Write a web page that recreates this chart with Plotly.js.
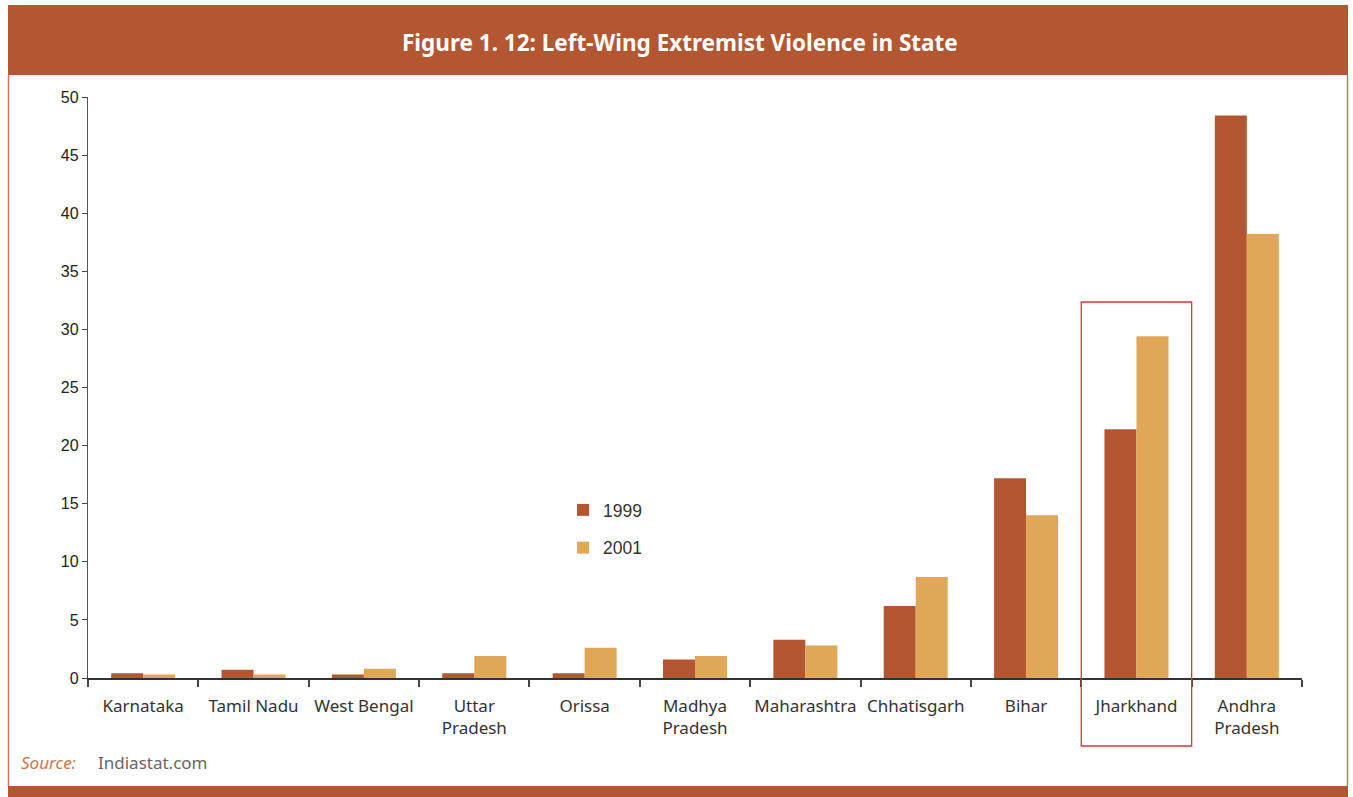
<!DOCTYPE html>
<html>
<head>
<meta charset="utf-8">
<script src="https://cdn.plot.ly/plotly-3.0.1.min.js"></script>
<style>html,body{margin:0;padding:0;background:#fff;}#chart{width:1353px;height:797px;}</style>
</head>
<body>
<div id="chart"></div>
<script>
const states = ["Karnataka","Tamil Nadu","West Bengal","Uttar<br>Pradesh","Orissa","Madhya<br>Pradesh","Maharashtra","Chhatisgarh","Bihar","Jharkhand","Andhra<br>Pradesh"];
const values1999 = [0.4, 0.7, 0.3, 0.4, 0.4, 1.6, 3.3, 6.2, 17.2, 21.4, 48.4];
const values2001 = [0.3, 0.3, 0.8, 1.9, 2.6, 1.9, 2.8, 8.7, 14.0, 29.4, 38.2];
const seriesNames = ["1999","2001"];
const yTicks = [0,5,10,15,20,25,30,35,40,45,50];
const highlighted = "Jharkhand";

const RUST = "#B35632", GOLD = "#DFA757";
const W = 1353, H = 797, M = {l:88, r:51, t:97, b:119};
const PW = W - M.l - M.r, PH = H - M.t - M.b;
const px = v => (v - M.l) / PW;
const py = v => (H - M.b - v) / PH;

const traces = [
  {type:"bar", name:seriesNames[0], x:states, y:values1999, marker:{color:RUST}, legendgroup:"a", hoverinfo:"x+y+name"},
  {type:"bar", name:seriesNames[1], x:states, y:values2001, marker:{color:GOLD}, legendgroup:"b", hoverinfo:"x+y+name"}
];

const idx = states.indexOf(highlighted);
const n = states.length;

const shapes = [
  {type:"rect", xref:"paper", yref:"paper", x0:px(8), x1:px(1348), y0:py(75), y1:py(5), fillcolor:RUST, line:{width:0}, layer:"below"},
  {type:"line", xref:"paper", yref:"paper", x0:px(8.5), x1:px(8.5), y0:py(75), y1:py(786), line:{color:"#C47A5A", width:1.5}},
  {type:"line", xref:"paper", yref:"paper", x0:px(1347.5), x1:px(1347.5), y0:py(75), y1:py(786), line:{color:"#C47A5A", width:1.5}},
  {type:"rect", xref:"paper", yref:"paper", x0:px(8), x1:px(1348), y0:py(797), y1:py(786), fillcolor:RUST, line:{width:0}},
  {type:"rect", xref:"x domain", yref:"y domain", x0:idx/n, x1:(idx+1)/n, y0:py(746), y1:py(302), line:{color:"#E8303A", width:1.3}, fillcolor:"rgba(0,0,0,0)"}
];

const annotations = [
  {xref:"paper", yref:"paper", x:px(680), xanchor:"center", y:py(42), yanchor:"middle", showarrow:false,
   text:"<b>Figure 1. 12: Left-Wing Extremist Violence in State</b>",
   font:{family:"Noto Sans, Open Sans, sans-serif", size:22.5, color:"#ffffff"}},
  {xref:"paper", yref:"paper", x:px(19), xanchor:"left", y:py(762), yanchor:"middle", showarrow:false,
   text:"<i>Source:</i>", font:{family:"Noto Sans, sans-serif", size:17, color:"#C8764C"}},
  {xref:"paper", yref:"paper", x:px(96), xanchor:"left", y:py(762), yanchor:"middle", showarrow:false,
   text:"Indiastat.com", font:{family:"Noto Sans, sans-serif", size:17, color:"#666666"}}
];

const layout = {
  width:W, height:H,
  margin:M,
  paper_bgcolor:"#ffffff", plot_bgcolor:"#ffffff",
  barmode:"group", bargap:0.42, bargroupgap:0,
  showlegend:true,
  legend:{x:px(563), xanchor:"left", y:py(492), yanchor:"top", bgcolor:"rgba(0,0,0,0)",
          font:{family:"Liberation Sans, Arial, sans-serif", size:17.5, color:"#333"}, tracegroupgap:12},
  xaxis:{type:"category", tickson:"boundaries", ticks:"outside", ticklen:7, tickcolor:"#444", tickwidth:1.5,
         tickangle:0, automargin:false, ticklabelstandoff:12,
         showline:true, linecolor:"#333", linewidth:1.5, showgrid:false, zeroline:false,
         tickfont:{family:"Noto Sans, Open Sans, sans-serif", size:17, color:"#333"}, fixedrange:true},
  yaxis:{range:[0,50], tickvals:yTicks, ticks:"outside", ticklen:5, tickcolor:"#444", tickwidth:1.2,
         showline:true, linecolor:"#555", linewidth:1.3, showgrid:false, zeroline:false,
         tickfont:{family:"Liberation Sans, Arial, sans-serif", size:16, color:"#222"}, fixedrange:true},
  shapes:shapes,
  annotations:annotations
};

Plotly.newPlot("chart", traces, layout, {displayModeBar:false, responsive:false});
</script>
</body>
</html>
